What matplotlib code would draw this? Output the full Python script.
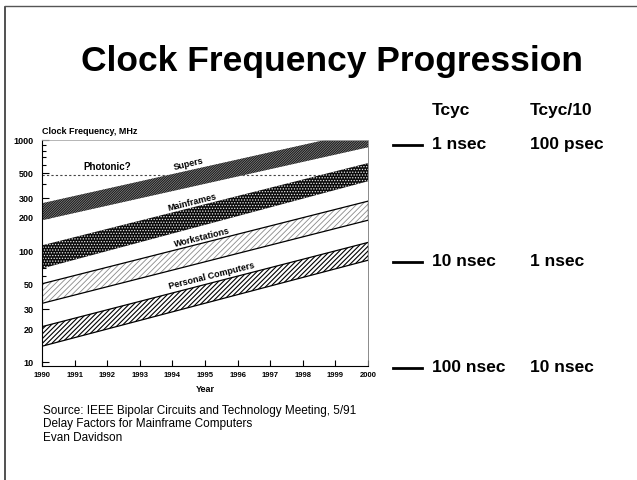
import numpy as np
import matplotlib.pyplot as plt
import matplotlib as mpl

# clock frequency bands, MHz, at the two ends of the decade
years = [1990, 2000]
supers_lo = [190, 860]
supers_hi = [270, 1220]
main_lo = [70, 426]
main_hi = [113, 620]
work_lo = [34, 190]
work_hi = [51, 282]
pc_lo = [14, 83]
pc_hi = [21, 120]
photonic = 480

yticks = [10, 20, 30, 50, 100, 200, 300, 500, 1000]
xticks = list(range(1990, 2001))

tcyc = ["1 nsec", "10 nsec", "100 nsec"]
tcyc10 = ["100 psec", "1 nsec", "10 nsec"]
row_y = [145, 262, 368]  # pixel rows of the cycle-time table

plt.rcParams['font.family'] = ['Liberation Sans', 'DejaVu Sans']

W, H = 637, 480
fig = plt.figure(figsize=(W / 100, H / 100), dpi=100)

def fx(px):
    return px / W

def fy(py):
    return 1 - py / H

# slide border
fig.add_artist(plt.Line2D([fx(5), fx(5)], [0, fy(7)], color='#333', lw=1.2))
fig.add_artist(plt.Line2D([fx(5), fx(637)], [fy(6), fy(6)], color='#555', lw=1.0))

fig.text(fx(332), fy(62), "Clock Frequency Progression", ha='center', va='center',
         fontsize=25.5, fontweight='bold')

ax = fig.add_axes([fx(42), fy(366), fx(368) - fx(42), fy(140) - fy(366)])
ax.set_yscale('log')
ax.set_xlim(1990, 2000)
ax.set_ylim(9.3, 1000)

ax.plot([1990, 1999.4], [photonic, photonic], color='#444', lw=0.8, ls=(0, (2, 2)), zorder=1)

def band(lo, hi, face, edge, hatch, hlw):
    with mpl.rc_context({'hatch.linewidth': hlw}):
        ax.fill_between(years, lo, hi, facecolor=face, edgecolor=edge,
                        hatch=hatch, linewidth=0, zorder=2)

band(pc_lo, pc_hi, 'white', 'black', '/' * 7, 0.8)
band(work_lo, work_hi, 'white', '#8a8a8a', '/' * 6, 0.6)
band(main_lo, main_hi, '#0a0a0a', '#e8e8e8', '.' * 6, 0.6)
band(supers_lo, supers_hi, '#8a8a8a', '#151515', '/' * 14, 0.7)
for lo, hi in [(pc_lo, pc_hi), (work_lo, work_hi)]:
    ax.plot(years, lo, color='black', lw=0.9, zorder=3)
    ax.plot(years, hi, color='black', lw=0.9, zorder=3)
    ax.plot([2000, 2000], [lo[1], hi[1]], color='black', lw=0.9, zorder=3)

ax.text(1992.0, 570, "Photonic?", ha='center', va='center', fontsize=7, fontweight='bold')

lab = dict(ha='center', va='center', fontsize=6.5, fontweight='bold',
           rotation_mode='anchor', zorder=4)
ax.text(1994.5, 610, "Supers", rotation=13,
        bbox=dict(facecolor='white', edgecolor='none', pad=0.3), **lab)
ax.text(1994.6, 272, "Mainframes", rotation=14, **lab)
ax.text(1994.9, 132, "Workstations", rotation=14, **lab)
ax.text(1995.2, 60, "Personal Computers", rotation=14, **lab)

ax.set_yticks(yticks)
ax.set_yticklabels([str(v) for v in yticks])
ax.yaxis.set_minor_formatter(mpl.ticker.NullFormatter())
ax.set_xticks(xticks)
ax.set_xticklabels([str(v) for v in xticks])
ax.tick_params(axis='both', which='both', direction='in', labelsize=6.5, width=0.8)
ax.tick_params(axis='y', which='major', length=5, pad=6)
ax.tick_params(axis='y', which='minor', length=3)
ax.tick_params(axis='x', which='major', length=4, pad=4, labelsize=5.5)
for t in ax.get_xticklabels() + ax.get_yticklabels():
    t.set_fontweight('bold')
ax.spines['right'].set_color('#777777')
ax.spines['right'].set_linewidth(0.6)
ax.spines['top'].set_color('#aaaaaa')
ax.spines['top'].set_linewidth(0.6)
ax.set_xlabel("Year", fontsize=6.5, fontweight='bold', labelpad=5)
fig.text(fx(42), fy(132), "Clock Frequency, MHz", ha='left', va='center',
         fontsize=6.5, fontweight='bold')

# cycle time table on the right
fig.text(fx(432), fy(110), "Tcyc", ha='left', va='center', fontsize=12.5, fontweight='bold')
fig.text(fx(530), fy(110), "Tcyc/10", ha='left', va='center', fontsize=12.5, fontweight='bold')
for py, a, b in zip(row_y, tcyc, tcyc10):
    fig.add_artist(plt.Line2D([fx(393), fx(422)], [fy(py), fy(py)], color='black', lw=2))
    fig.text(fx(432), fy(py), a, ha='left', va='center', fontsize=12.5, fontweight='bold')
    fig.text(fx(530), fy(py), b, ha='left', va='center', fontsize=12.5, fontweight='bold')

src = ["Source: IEEE Bipolar Circuits and Technology Meeting, 5/91",
       "Delay Factors for Mainframe Computers",
       "Evan Davidson"]
for i, s in enumerate(src):
    fig.text(fx(43), fy(411 + 13.5 * i), s, ha='left', va='center', fontsize=8.5)

fig.savefig("out.png", dpi=100)
